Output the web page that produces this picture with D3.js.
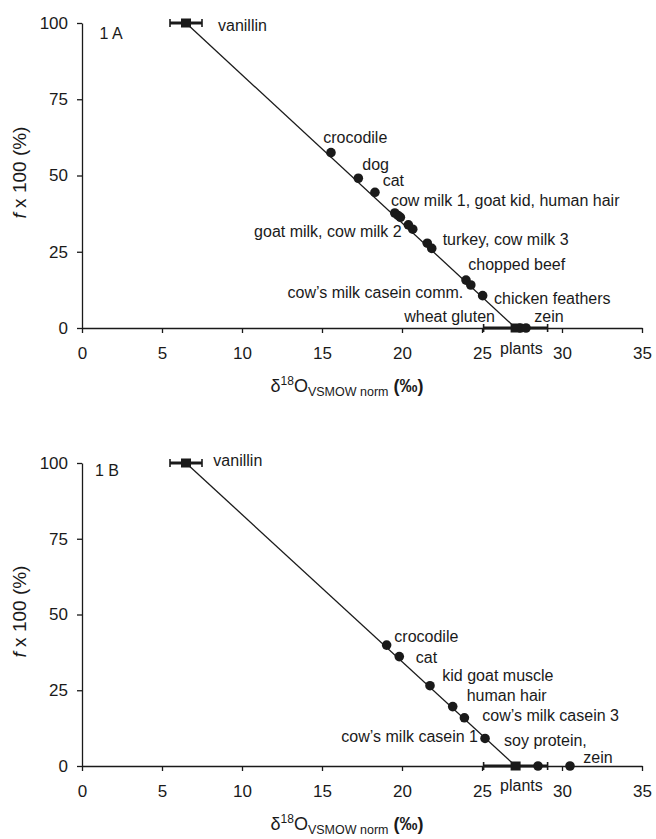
<!DOCTYPE html>
<html>
<head>
<meta charset="utf-8">
<script src="https://cdn.jsdelivr.net/npm/d3@7"></script>
<style>
  body { margin: 0; background: #fff; }
  svg text { font-family: "Liberation Sans", Arial, sans-serif; fill: #1a1a1a; }
</style>
</head>
<body>
<div id="chart"></div>
<script>
// ---- data ----
var xTicks = [0, 5, 10, 15, 20, 25, 30, 35];
var yTicks = [0, 25, 50, 75, 100];

// end members (delta18O, f)
var vanillin = { x: 6.5, y: 100, err: 1.0 };
var plants = { x: 27.1, y: 0, err: 2.0 };

// panel A samples
var aX = [15.56, 17.27, 18.31, 19.55, 19.75, 19.9, 20.4, 20.67, 21.58, 21.86, 24.0, 24.3, 25.04, 27.4, 27.75];
var aY = [57.5, 49.1, 44.5, 37.7, 36.9, 36.3, 33.8, 32.4, 27.8, 26.1, 15.7, 14.1, 10.6, 0, 0];

// panel A labels: text, anchor x, anchor y, anchor side
var aLabelText = ["1 A", "vanillin", "crocodile", "dog", "cat", "cow milk 1, goat kid, human hair",
  "goat milk, cow milk 2", "turkey, cow milk 3", "chopped beef", "cow\u2019s  milk casein comm.",
  "chicken feathers", "wheat gluten", "zein", "plants"];
var aLabelX = [1.1, 8.5, 15.08, 17.52, 18.79, 19.31, 19.98, 22.54, 24.14, 23.83, 25.75, 25.81, 28.27, 26.13];
var aLabelY = [96.7, 99.3, 62.5, 53.7, 48.3, 42.0, 31.8, 29.1, 20.7, 11.6, 9.7, 3.8, 3.9, -6.8];
var aLabelEnd = [0, 0, 0, 0, 0, 0, 1, 0, 0, 1, 0, 1, 0, 0];

// panel B samples
var bX = [19.04, 19.83, 21.75, 23.17, 23.9, 25.19, 28.5, 30.5];
var bY = [39.9, 36.1, 26.5, 19.6, 15.9, 9.1, 0, 0];

var bLabelText = ["1 B", "vanillin", "crocodile", "cat", "kid goat muscle", "human hair",
  "cow\u2019s milk casein 3", "cow\u2019s milk casein 1", "soy protein,", "zein", "plants"];
var bLabelX = [0.81, 8.21, 19.52, 20.86, 22.52, 24.04, 25.02, 24.75, 26.38, 31.33, 26.13];
var bLabelY = [97.7, 100.7, 42.9, 35.9, 29.8, 23.2, 16.8, 9.7, 8.3, 2.9, -6.3];
var bLabelEnd = [0, 0, 0, 0, 0, 0, 0, 1, 0, 0, 0];

var W = 656, H = 839;
var svg = d3.select("#chart").append("svg")
    .attr("width", W)
    .attr("height", H);

function drawPanel(top, bottom, xs, ys, lt, lx, ly, lend) {
    var x = d3.scaleLinear().domain([0, 35]).range([82, 642]);
    var y = d3.scaleLinear().domain([0, 100]).range([bottom, top]);
    var g = svg.append("g");

    var xAxis = g.append("g")
        .attr("transform", "translate(0," + bottom + ")")
        .call(d3.axisBottom(x).tickValues(xTicks).tickSize(5).tickSizeOuter(0).tickPadding(14));
    var yAxis = g.append("g")
        .attr("transform", "translate(82,0)")
        .call(d3.axisLeft(y).tickValues(yTicks).tickSize(5).tickSizeOuter(0).tickPadding(9));
    [xAxis, yAxis].forEach(function(a) {
        a.selectAll("path, line").attr("stroke", "#1a1a1a").attr("stroke-width", 1.3);
        a.selectAll("text").style("font-size", "17px").attr("fill", "#1a1a1a");
    });

    // axis titles
    var xt = g.append("text")
        .attr("x", 347)
        .attr("y", bottom + 64)
        .attr("text-anchor", "middle")
        .style("font-size", "18px");
    xt.append("tspan").text("\u03b4");
    xt.append("tspan").attr("dy", -7).style("font-size", "12px").text("18");
    xt.append("tspan").attr("dy", 7).text("O");
    xt.append("tspan").attr("dy", 4).style("font-size", "12.5px").text("VSMOW norm");
    xt.append("tspan").attr("dy", -4).style("font-weight", "bold").text(" (\u2030)");

    var yt = g.append("text")
        .attr("transform", "translate(26," + ((top + bottom) / 2 - 3) + ") rotate(-90)")
        .attr("text-anchor", "middle")
        .style("font-size", "19px");
    yt.append("tspan").style("font-style", "italic").text("f");
    yt.append("tspan").text(" x 100 (%)");

    // mixing line
    g.append("line")
        .attr("x1", x(vanillin.x)).attr("y1", y(vanillin.y))
        .attr("x2", x(plants.x)).attr("y2", y(plants.y))
        .attr("stroke", "#1a1a1a")
        .attr("stroke-width", 1.3);

    // error bars for end members
    [vanillin, plants].forEach(function(d) {
        var eb = g.append("g").attr("stroke", "#1a1a1a");
        eb.append("line")
            .attr("x1", x(d.x - d.err)).attr("x2", x(d.x + d.err))
            .attr("y1", y(d.y)).attr("y2", y(d.y))
            .attr("stroke-width", 3);
        [d.x - d.err, d.x + d.err].forEach(function(v) {
            eb.append("line")
                .attr("x1", x(v)).attr("x2", x(v))
                .attr("y1", y(d.y) - 4).attr("y2", y(d.y) + 4)
                .attr("stroke-width", 1.6);
        });
    });

    // samples
    g.selectAll("circle.pt")
        .data(d3.range(xs.length))
      .enter().append("circle")
        .attr("class", "pt")
        .attr("cx", function(i) { return x(xs[i]); })
        .attr("cy", function(i) { return y(ys[i]); })
        .attr("r", 4.8)
        .attr("fill", "#1a1a1a");

    // end member squares
    [vanillin, plants].forEach(function(d) {
        g.append("rect")
            .attr("x", x(d.x) - 5).attr("y", y(d.y) - 4.5)
            .attr("width", 10).attr("height", 9)
            .attr("fill", "#1a1a1a");
    });

    // labels
    g.selectAll("text.lab")
        .data(d3.range(lt.length))
      .enter().append("text")
        .attr("class", "lab")
        .attr("x", function(i) { return x(lx[i]); })
        .attr("y", function(i) { return y(ly[i]); })
        .attr("dy", "0.35em")
        .attr("text-anchor", function(i) { return lend[i] ? "end" : "start"; })
        .style("font-size", "16px")
        .text(function(i) { return lt[i]; });
}

drawPanel(23, 328, aX, aY, aLabelText, aLabelX, aLabelY, aLabelEnd);
drawPanel(463, 766, bX, bY, bLabelText, bLabelX, bLabelY, bLabelEnd);
</script>
</body>
</html>
